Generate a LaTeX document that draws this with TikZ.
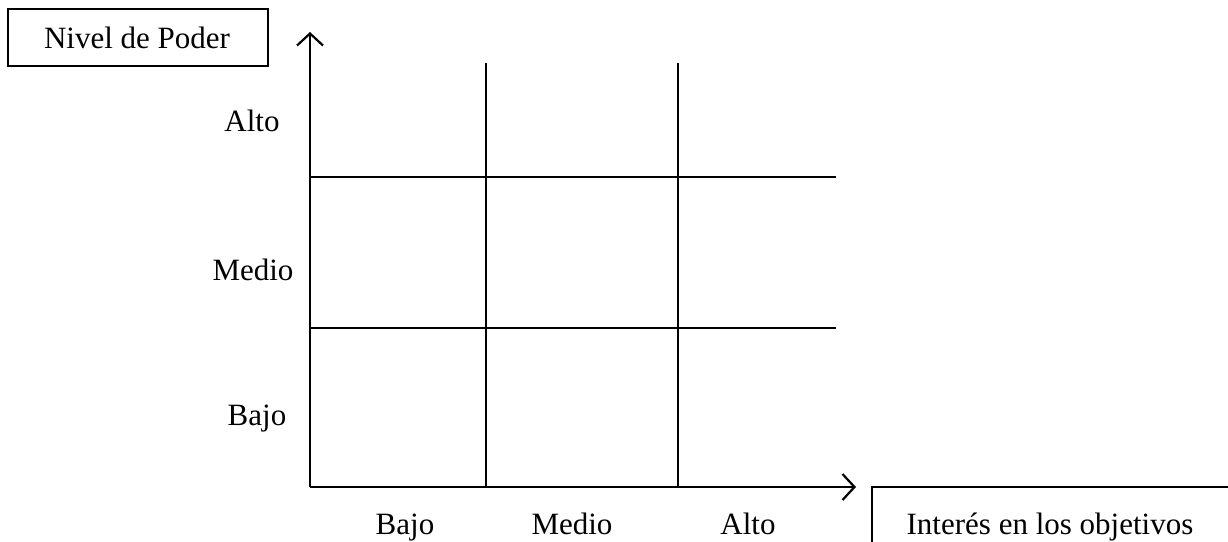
\documentclass[tikz,border=0pt]{standalone}
\usepackage{fontspec}
\setmainfont{Liberation Serif}
\usetikzlibrary{arrows.meta}
\begin{document}
\begin{tikzpicture}[x=1pt,y=-1pt,
  every node/.style={font=\fontsize{31}{37}\selectfont, inner sep=0pt},
  lbl/.style={anchor=base},
  gridline/.style={line width=2pt},
  axisline/.style={line width=2pt, -{Straight Barb[length=12pt,width=26pt,line width=2.2pt]}},
  labelbox/.style={draw, line width=1.5pt, minimum height=57pt, anchor=center}]
\useasboundingbox (0,0) rectangle (1228,541);
% axes
\coordinate (O) at (310,487);
\coordinate (Ytop) at (310,32);
\coordinate (Xend) at (856,487);
\draw[axisline] (O) -- (Ytop);
\draw[axisline] (O) -- (Xend);
% grid
\coordinate (h1a) at (310,177); \coordinate (h1b) at (836,177);
\coordinate (h2a) at (310,328); \coordinate (h2b) at (836,328);
\coordinate (v1a) at (486,63); \coordinate (v1b) at (486,487);
\coordinate (v2a) at (678,63); \coordinate (v2b) at (678,487);
\draw[gridline] (h1a) -- (h1b);
\draw[gridline] (h2a) -- (h2b);
\draw[gridline] (v1a) -- (v1b);
\draw[gridline] (v2a) -- (v2b);
% boxes
\node[labelbox, minimum width=260pt] (poder) at (138,37.5) {};
\node[lbl] (podertxt) at (137,48) {Nivel de Poder};
\draw[line width=1.5pt] (872,545) -- (872,487) -- (1232,487);
\node[lbl] (interes) at (1050,534) {Interés en los objetivos};
% y labels
\node[lbl] (yalto) at (252,131) {Alto};
\node[lbl] (ymedio) at (253,280) {Medio};
\node[lbl] (ybajo) at (257,425) {Bajo};
% x labels
\node[lbl] (xbajo) at (405,534) {Bajo};
\node[lbl] (xmedio) at (572,534) {Medio};
\node[lbl] (xalto) at (748,534) {Alto};
\end{tikzpicture}
\end{document}
